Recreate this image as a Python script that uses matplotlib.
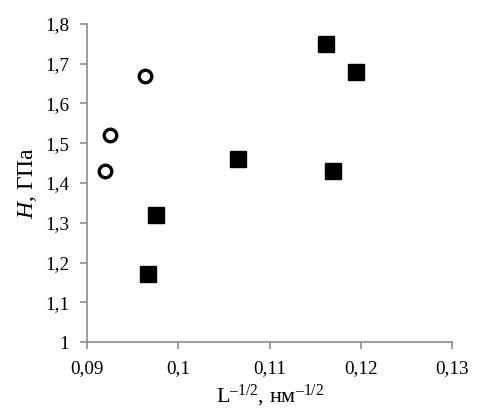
import numpy as np
from matplotlib import pyplot as plt
from matplotlib.ticker import FuncFormatter, MultipleLocator

plt.rcParams['font.family'] = ['Liberation Serif', 'DejaVu Serif']
plt.rcParams['mathtext.fontset'] = 'custom'
plt.rcParams['mathtext.rm'] = 'Liberation Serif'
plt.rcParams['mathtext.it'] = 'Liberation Serif:italic'

# open circles
x_circ = [0.0920, 0.0925, 0.0963]
y_circ = [1.43, 1.52, 1.67]

# filled squares
x_sq = [0.0967, 0.0976, 0.1066, 0.1162, 0.1195, 0.1170]
y_sq = [1.17, 1.32, 1.46, 1.75, 1.68, 1.43]

fig = plt.figure(figsize=(4.84, 4.18), dpi=100)
ax = fig.add_axes([0.1798, 0.1818, 0.7541, 0.7608])

ax.plot(x_sq, y_sq, 's', color='black', markersize=12.2, linestyle='none')
ax.plot(x_circ, y_circ, 'o', markerfacecolor='white', markeredgecolor='black',
        markeredgewidth=2.4, markersize=9, linestyle='none')

ax.set_xlim(0.09, 0.13)
ax.set_ylim(1.0, 1.8)
ax.xaxis.set_major_locator(MultipleLocator(0.01))
ax.yaxis.set_major_locator(MultipleLocator(0.1))
fmt = FuncFormatter(lambda v, p: ('%g' % round(v, 4)).replace('.', ','))
ax.xaxis.set_major_formatter(fmt)
ax.yaxis.set_major_formatter(fmt)

for s in ['top', 'right']:
    ax.spines[s].set_visible(False)
for s in ['left', 'bottom']:
    ax.spines[s].set_color('#8c8c8c')
    ax.spines[s].set_linewidth(1.2)
ax.tick_params(direction='out', length=5, width=1.2, color='#8c8c8c',
               labelsize=13.8, pad=8)

ax.set_xlabel('L$^{\\mathrm{\u2013}\\mathsf{}\\mathrm{1/2}}$, нм$^{\\mathrm{\u20131/2}}$',
              fontsize=16, labelpad=4)
ax.set_ylabel('$\\mathit{H}$, ГПа', fontsize=17, labelpad=4)

plt.savefig('out.png', dpi=100)
